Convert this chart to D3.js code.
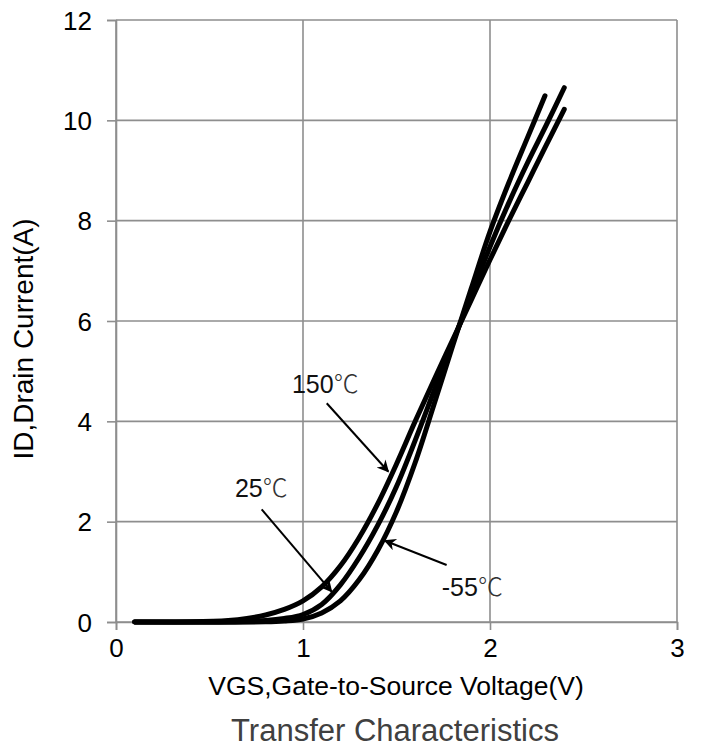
<!DOCTYPE html>
<html>
<head>
<meta charset="utf-8">
<script src="https://cdn.jsdelivr.net/npm/d3@7"></script>
<style>
  html, body { margin: 0; padding: 0; background: #fff; }
  svg { display: block; }
  text { font-family: "Liberation Sans", Arial, "Noto Sans CJK SC", sans-serif; }
</style>
</head>
<body>
<svg id="chart" width="701" height="749"></svg>
<script>
// ---- data ----
const xTicks = [0, 1, 2, 3];
const yTicks = [0, 2, 4, 6, 8, 10, 12];
const xLabel = "VGS,Gate-to-Source Voltage(V)";
const yLabel = "ID,Drain Current(A)";
const title = "Transfer Characteristics";

// series: [VGS, ID]
const curve150 = [[0.1,0],[0.4,0.004],[0.6,0.03],[0.7,0.07],[0.8,0.14],[0.9,0.25],[1.0,0.42],[1.1,0.7],[1.2,1.12],[1.3,1.68],[1.4,2.36],[1.5,3.15],[1.6,4.0],[1.7,4.82],[1.8,5.62],[1.9,6.42],[2.0,7.22],[2.1,8.0],[2.2,8.75],[2.3,9.5],[2.397,10.22]];
const curve25  = [[0.1,0],[0.6,0.004],[0.8,0.03],[0.9,0.07],[1.0,0.15],[1.1,0.35],[1.2,0.74],[1.3,1.28],[1.4,1.93],[1.5,2.7],[1.6,3.62],[1.7,4.6],[1.8,5.57],[1.9,6.52],[2.0,7.48],[2.1,8.35],[2.2,9.15],[2.3,9.9],[2.397,10.65]];
const curveM55 = [[0.1,0],[0.8,0.004],[0.9,0.02],[1.0,0.06],[1.1,0.18],[1.2,0.42],[1.3,0.84],[1.4,1.43],[1.5,2.2],[1.6,3.18],[1.7,4.33],[1.8,5.5],[1.9,6.65],[2.0,7.78],[2.1,8.75],[2.2,9.65],[2.294,10.49]];

// annotations: label, text anchor point, arrow start, arrow tip (data units)
const annotations = [
  { label: "150", text: [0.941, 4.56], from: [1.127, 4.36], to: [1.456, 3.0] },
  { label: "25",  text: [0.636, 2.49], from: [0.779, 2.246], to: [1.153, 0.604] },
  { label: "-55", text: [1.742, 0.518], from: [1.768, 1.136], to: [1.438, 1.62] }
];

// ---- layout ----
const svg = d3.select("#chart");
const x = d3.scaleLinear().domain([0, 3]).range([116, 677]);
const y = d3.scaleLinear().domain([0, 12]).range([622, 20]);
const gridColor = "#8e8e8e";

// gridlines
svg.append("g").selectAll("line.h").data(yTicks).join("line")
  .attr("x1", x(0)).attr("x2", x(3))
  .attr("y1", d => y(d)).attr("y2", d => y(d))
  .attr("stroke", gridColor).attr("stroke-width", 1.6);
svg.append("g").selectAll("line.v").data(xTicks).join("line")
  .attr("y1", y(0)).attr("y2", y(12))
  .attr("x1", d => x(d)).attr("x2", d => x(d))
  .attr("stroke", gridColor).attr("stroke-width", 1.6);

// axes
const xAxis = svg.append("g").attr("transform", `translate(0,${y(0)})`)
  .call(d3.axisBottom(x).tickValues(xTicks).tickFormat(d3.format("d")).tickSize(8).tickPadding(9));
const yAxis = svg.append("g").attr("transform", `translate(${x(0)},0)`)
  .call(d3.axisLeft(y).tickValues(yTicks).tickFormat(d3.format("d")).tickSize(9).tickPadding(15));
[xAxis, yAxis].forEach(a => {
  a.select(".domain").attr("stroke", gridColor).attr("stroke-width", 1.6);
  a.selectAll(".tick line").attr("stroke", gridColor).attr("stroke-width", 1.6);
  a.selectAll(".tick text").attr("fill", "#000").style("font-size", "26px")
    .style("font-family", "'Liberation Sans', Arial, sans-serif");
});
yAxis.selectAll(".tick text").attr("dy", "0.35em");

// curves
const line = d3.line().x(d => x(d[0])).y(d => y(d[1])).curve(d3.curveCatmullRom.alpha(0.5));
[curve150, curve25, curveM55].forEach(c => {
  svg.append("path").datum(c).attr("d", line)
    .attr("fill", "none").attr("stroke", "#000")
    .attr("stroke-width", 5).attr("stroke-linecap", "round").attr("stroke-linejoin", "round");
});

// arrow marker
svg.append("defs").append("marker")
  .attr("id", "arrow").attr("viewBox", "0 0 10 10")
  .attr("refX", 9).attr("refY", 5)
  .attr("markerWidth", 7).attr("markerHeight", 6)
  .attr("markerUnits", "strokeWidth")
  .attr("orient", "auto")
  .append("path").attr("d", "M0,0 L10,5 L0,10 L3,5 Z").attr("fill", "#000");

annotations.forEach(a => {
  svg.append("line")
    .attr("x1", x(a.from[0])).attr("y1", y(a.from[1]))
    .attr("x2", x(a.to[0])).attr("y2", y(a.to[1]))
    .attr("stroke", "#000").attr("stroke-width", 2)
    .attr("marker-end", "url(#arrow)");
  const t = svg.append("text")
    .attr("x", x(a.text[0])).attr("y", y(a.text[1]))
    .attr("fill", "#111").style("font-size", "25px");
  t.append("tspan").text(a.label);
  t.append("tspan").text("℃").attr("fill", "#333")
    .style("font-family", "'Noto Sans CJK SC', 'DejaVu Sans', sans-serif")
    .style("font-weight", "300");
});

// axis titles
svg.append("text").attr("x", 396).attr("y", 695)
  .attr("text-anchor", "middle").attr("fill", "#000").style("font-size", "26.5px")
  .text(xLabel);
svg.append("text")
  .attr("transform", `translate(33,339) rotate(-90)`)
  .attr("text-anchor", "middle").attr("fill", "#000").style("font-size", "28px")
  .text(yLabel);
svg.append("text").attr("x", 395).attr("y", 741)
  .attr("text-anchor", "middle").attr("fill", "#404040").style("font-size", "31px")
  .text(title);
</script>
</body>
</html>
